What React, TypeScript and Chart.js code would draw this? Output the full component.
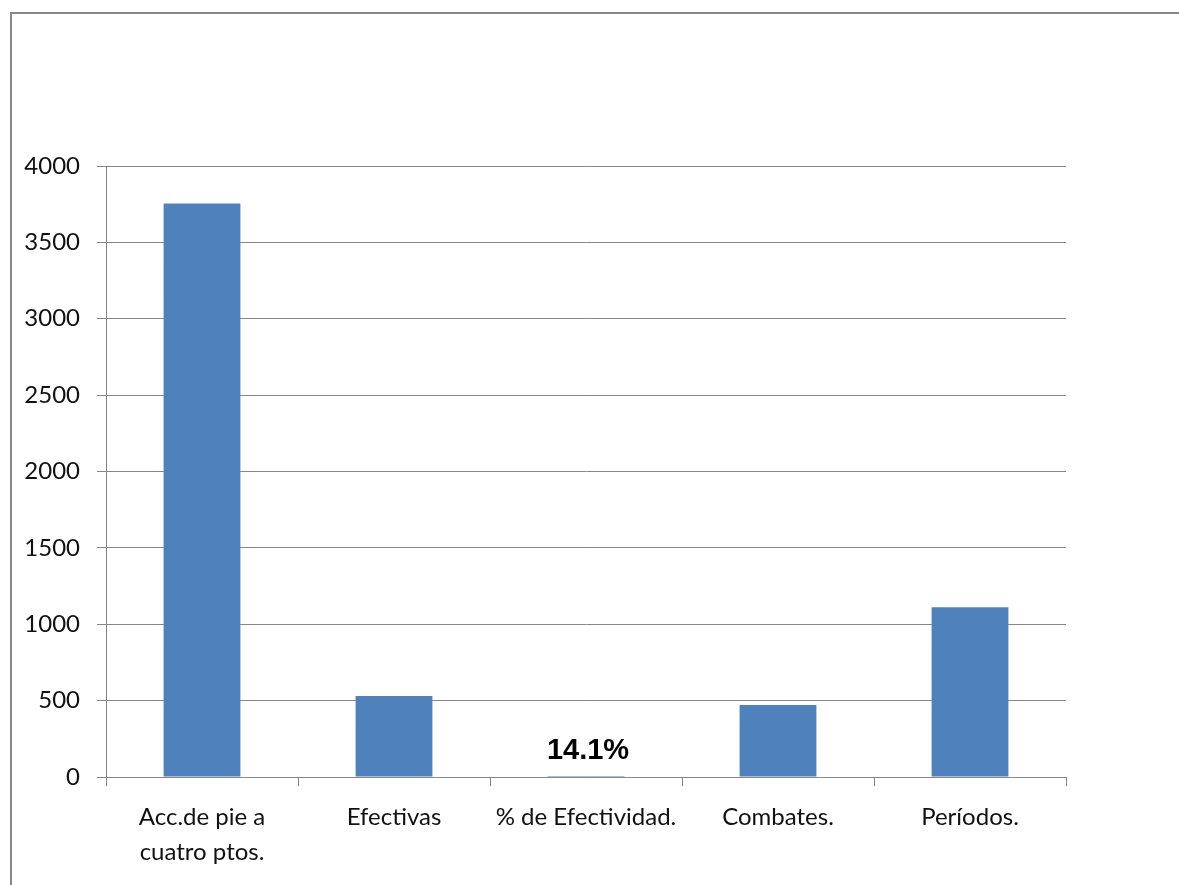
import React, { useEffect, useRef } from "react";
import { Chart, registerables } from "chart.js";

Chart.register(...registerables);

const categories: (string | string[])[] = [
  ["Acc.de pie a", "cuatro ptos."],
  "Efectivas",
  "% de Efectividad.",
  "Combates.",
  "Períodos.",
];
const values: number[] = [3755, 530, 0.141, 472, 1111];
const dataLabels: (string | null)[] = [null, null, "14.1%", null, null];
const yTicks: number[] = [0, 500, 1000, 1500, 2000, 2500, 3000, 3500, 4000];

const GRID = "#878787";
const BAR = "#4F81BD";
const FONT = "Lato, 'Open Sans', sans-serif";

const framePlugin = {
  id: "frame",
  beforeDraw(chart: any) {
    const ctx = chart.ctx;
    ctx.save();
    ctx.fillStyle = "#ffffff";
    ctx.fillRect(0, 0, chart.width, chart.height);
    ctx.strokeStyle = GRID;
    ctx.lineWidth = 2;
    ctx.strokeRect(11, 13, chart.width + 40, chart.height + 40);
    ctx.restore();
  },
};

const labelPlugin = {
  id: "valueLabels",
  afterDatasetsDraw(chart: any) {
    const ctx = chart.ctx;
    const meta = chart.getDatasetMeta(0);
    const yScale = chart.scales.y;
    ctx.save();
    ctx.fillStyle = "#000000";
    ctx.font = "bold 29px 'Liberation Sans', Arial, sans-serif";
    ctx.textAlign = "center";
    ctx.textBaseline = "middle";
    dataLabels.forEach((lbl, i) => {
      if (!lbl) return;
      const el = meta.data[i];
      const y = yScale.getPixelForValue(values[i]) - 26;
      ctx.fillText(lbl, el.x + 2, y);
    });
    ctx.restore();
  },
};

export default function App() {
  const ref = useRef<HTMLCanvasElement | null>(null);
  useEffect(() => {
    document.body.style.margin = "0";
    const chart = new Chart(ref.current as HTMLCanvasElement, {
      type: "bar",
      data: {
        labels: categories,
        datasets: [
          {
            data: values,
            backgroundColor: BAR,
            borderWidth: 0,
            categoryPercentage: 1,
            barPercentage: 0.4,
          },
        ],
      },
      options: {
        animation: false,
        responsive: false,
        maintainAspectRatio: false,
        layout: { padding: { top: 166, right: 113, left: 0, bottom: 0 } },
        plugins: { legend: { display: false }, tooltip: { enabled: false } },
        scales: {
          x: {
            grid: {
              offset: true,
              drawOnChartArea: false,
              drawTicks: true,
              tickLength: 9,
              color: GRID,
            },
            border: { color: GRID, width: 1 },
            ticks: {
              color: "#111",
              font: { family: FONT, size: 24, lineHeight: 1.46 },
              padding: 14,
              maxRotation: 0,
              autoSkip: false,
            },
            afterFit(scale: any) {
              scale.height = 885 - 777;
            },
          },
          y: {
            min: 0,
            max: 4000,
            afterBuildTicks(scale: any) {
              scale.ticks = yTicks.map((v) => ({ value: v }));
            },
            grid: { color: GRID, tickLength: 9, lineWidth: 1 },
            border: { color: GRID, width: 1 },
            ticks: {
              color: "#111",
              font: { family: FONT, size: 24 },
              padding: 17,
              callback: (v: any) => String(v),
            },
            afterFit(scale: any) {
              scale.width = 106;
            },
          },
        },
      },
      plugins: [framePlugin, labelPlugin],
    });
    return () => chart.destroy();
  }, []);
  return <canvas ref={ref} width={1179} height={885} style={{ display: "block" }} />;
}
